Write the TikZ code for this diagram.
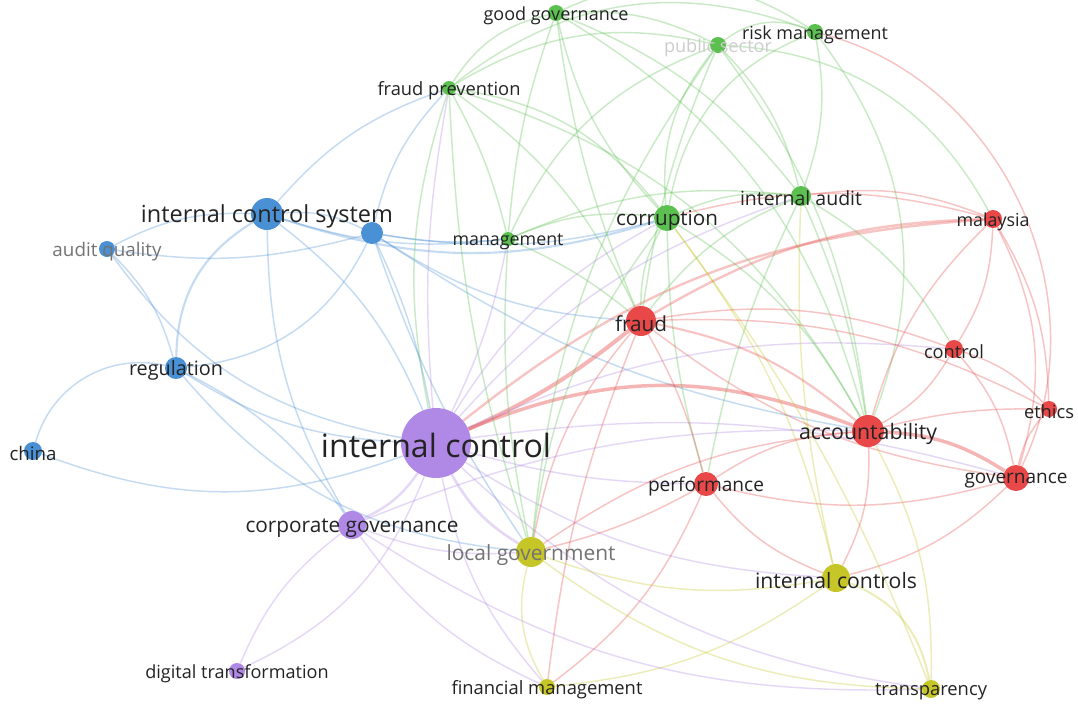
\documentclass[tikz,border=0pt]{standalone}
\usepackage{fontspec}
\setmainfont{Open Sans}
\pgfdeclarelayer{bg}\pgfdeclarelayer{fg}\pgfdeclarelayer{paper}
\pgfsetlayers{paper,bg,main,fg}
\definecolor{cb}{RGB}{74,144,212}
\definecolor{cg}{RGB}{92,192,80}
\definecolor{cr}{RGB}{232,72,72}
\definecolor{cp}{RGB}{176,136,230}
\definecolor{cy}{RGB}{198,198,40}
\definecolor{txt}{RGB}{35,35,35}
\definecolor{fadetxt}{RGB}{115,115,115}
\definecolor{palttxt}{RGB}{205,205,205}
\tikzset{
  kwdot/.style={circle,inner sep=0pt,draw=none},
  kwlbl/.style={inner sep=0pt,yshift=-2pt,font=\fontsize{12}{14}\selectfont},
  edge/.style={line width=1.1pt,draw opacity=0.32},
}
% name, x, y, radius(px), colour, label width(pt), text colour, text
\newcommand{\vn}[8]{%
  \node[kwdot,fill=#5,minimum size={1.5*#4 pt}] (#1) at (#2,#3) {};
  \begin{pgfonlayer}{fg}
    \node[kwlbl,text=#7] (#1-l) at (#2,#3) {\resizebox{#6pt}{!}{#8}};
  \end{pgfonlayer}}
% [extra], colour, from, to, signed bend
\newcommand{\E}[5][]{\pgfmathsetmacro\bnd{1.45*(#5)}%
  \draw[edge,draw=#2,#1] (#3) to[bend left=\bnd] (#4);}
\begin{document}
\begin{tikzpicture}[x=0.75pt,y=-0.75pt]
\begin{pgfonlayer}{paper}
\fill[white] (0,0) rectangle (1078,704);
\end{pgfonlayer}
\useasboundingbox (0,0) rectangle (1078,704);
% blue
\vn{ics}{267}{214}{16}{cb}{189}{txt}{internal control system}
\node[kwdot,fill=cb,minimum size={1.5*11 pt}] (unk) at (372,233) {};
\vn{auq}{107}{249}{8}{cb}{81.75}{fadetxt}{audit quality}
\vn{reg}{176}{368}{11}{cb}{70.5}{txt}{regulation}
\vn{china}{33}{451}{9}{cb}{35.25}{txt}{china}
% purple
\vn{ic}{436}{443}{35}{cp}{172.5}{txt}{internal control}
\vn{cg}{352}{525}{14}{cp}{159.75}{txt}{corporate governance}
\vn{dt}{237}{671}{8}{cp}{137.5}{txt}{digital transformation}
% green
\vn{gg}{556}{13}{8}{cg}{108.75}{txt}{good governance}
\vn{ps}{718}{45}{8}{cg}{81}{palttxt}{public sector}
\vn{rm}{815}{32}{8}{cg}{109.5}{txt}{risk management}
\vn{fp}{449}{88}{7}{cg}{107.25}{txt}{fraud prevention}
\vn{mgmt}{508}{239}{7}{cg}{83.25}{txt}{management}
\vn{corr}{667}{218}{13}{cg}{76.5}{txt}{corruption}
\vn{ia}{801}{196}{10}{cg}{91.5}{txt}{internal audit}
% red
\vn{fraud}{641}{321}{15}{cr}{39}{txt}{fraud}
\vn{mal}{993}{219}{9}{cr}{54.75}{txt}{malaysia}
\vn{ctrl}{954}{349}{9}{cr}{45}{txt}{control}
\vn{eth}{1049}{409}{8}{cr}{37.5}{txt}{ethics}
\vn{acc}{868}{431}{16}{cr}{103.5}{txt}{accountability}
\vn{gov}{1016}{478}{13}{cr}{77.25}{txt}{governance}
\vn{perf}{706}{484}{12}{cr}{87}{txt}{performance}
% yellow
\vn{lg}{531}{552}{15}{cy}{126.75}{fadetxt}{local government}
\vn{ics2}{836}{578}{14}{cy}{121.5}{txt}{internal controls}
\vn{fm}{547}{687}{8}{cy}{143.25}{txt}{financial management}
\vn{tr}{931}{689}{9}{cy}{84}{txt}{transparency}
\begin{pgfonlayer}{bg}
% blue edges
\E{cb}{ics}{auq}{-10}
\E[line width=1.6pt]{cb}{ics}{reg}{-20}
\E{cb}{auq}{reg}{10}
\E{cb}{ics}{unk}{10}
\E{cb}{ics}{ic}{10}
\E[line width=1.6pt]{cb}{ics}{corr}{-12}
\E{cb}{ics}{fp}{10}
\E{cb}{ics}{mgmt}{-8}
\E{cb}{ics}{cg}{-10}
\E{cb}{auq}{unk}{-8}
\E{cb}{auq}{ic}{-15}
\E{cb}{china}{reg}{30}
\E{cb}{reg}{unk}{-20}
\E{cb}{reg}{ic}{-10}
\E{cb}{reg}{cg}{10}
\E{cb}{reg}{lg}{-15}
\E{cb}{china}{ic}{-14}
\E{cb}{unk}{ic}{5}
\E{cb}{unk}{corr}{-8}
\E{cb}{unk}{fraud}{-10}
\E{cb}{unk}{acc}{-8}
\E{cb}{unk}{mgmt}{-5}
\E{cb}{unk}{fp}{10}
\E{cb}{unk}{lg}{-5}
% purple edges
\E[line width=1.8pt]{cp}{ic}{cg}{10}
\E{cp}{ic}{dt}{15}
\E[line width=3pt,draw opacity=0.4]{cr}{ic}{fraud}{-5}
\E[line width=2.6pt,draw opacity=0.4]{cr}{ic}{acc}{15}
\E[line width=2pt]{cp}{ic}{lg}{-10}
\E{cp}{ic}{perf}{-5}
\E{cp}{ic}{ics2}{-10}
\E{cp}{ic}{gov}{8}
\E{cp}{ic}{corr}{10}
\E{cp}{ic}{mgmt}{-5}
\E{cp}{ic}{fp}{5}
\E{cp}{ic}{fm}{-10}
\E[line width=1.8pt]{cr}{ic}{mal}{12}
\E{cp}{ic}{ctrl}{10}
\E{cp}{ic}{tr}{-12}
\E{cp}{ic}{ia}{10}
\E{cp}{cg}{dt}{-10}
\E{cp}{cg}{lg}{-8}
\E{cp}{cg}{acc}{8}
\E{cp}{cg}{fm}{-10}
\E{cp}{cg}{tr}{-12}
% green edges
\E{cg}{gg}{fp}{-15}
\E{cg}{gg}{ps}{10}
\E{cg}{gg}{rm}{20}
\E{cg}{gg}{corr}{-10}
\E{cg}{gg}{mgmt}{-5}
\E{cg}{gg}{ia}{10}
\E{cg}{gg}{acc}{15}
\E{cg}{gg}{fraud}{-5}
\E{cg}{ps}{rm}{20}
\E{cg}{ps}{corr}{-15}
\E{cg}{ps}{ia}{10}
\E{cg}{ps}{fraud}{-5}
\E{cg}{ps}{acc}{10}
\E{cg}{ps}{mgmt}{-15}
\E{cg}{ps}{fp}{-15}
\E{cg}{ps}{mal}{20}
\E{cg}{ps}{lg}{-10}
\E{cg}{rm}{ia}{10}
\E{cg}{rm}{acc}{20}
\E{cg}{rm}{corr}{-20}
\E{cr}{rm}{gov}{35}
\E{cg}{rm}{fp}{-20}
\E{cg}{fp}{corr}{15}
\E{cg}{fp}{mgmt}{5}
\E{cg}{fp}{ic}{-10}
\E{cg}{fp}{acc}{15}
\E{cg}{fp}{fraud}{10}
\E{cg}{fp}{lg}{-5}
\E{cg}{mgmt}{corr}{10}
\E{cg}{mgmt}{lg}{-5}
\E{cg}{mgmt}{fraud}{5}
\E{cg}{mgmt}{ia}{10}
\E{cg}{corr}{fraud}{-10}
\E{cg}{corr}{ia}{10}
\E{cg}{corr}{acc}{10}
\E{cr}{corr}{mal}{10}
\E{cg}{corr}{lg}{-10}
\E{cg}{corr}{perf}{-5}
\E{cy}{corr}{ics2}{8}
\E{cy}{corr}{tr}{5}
\E{cg}{ia}{fraud}{-10}
\E{cy}{ia}{ics2}{-5}
\E{cg}{ia}{acc}{5}
\E{cg}{ia}{ctrl}{10}
\E{cr}{ia}{mal}{10}
\E{cg}{ia}{perf}{-5}
% red edges
\E[line width=1.8pt]{cr}{fraud}{mal}{10}
\E{cr}{fraud}{ctrl}{10}
\E[line width=1.6pt]{cr}{fraud}{acc}{10}
\E{cr}{fraud}{perf}{5}
\E{cr}{fraud}{gov}{-10}
\E{cr}{fraud}{eth}{10}
\E{cr}{fraud}{lg}{-10}
\E{cr}{fraud}{fm}{-5}
\E{cr}{mal}{ctrl}{10}
\E{cr}{mal}{eth}{10}
\E{cr}{mal}{gov}{15}
\E{cr}{mal}{acc}{-10}
\E{cr}{ctrl}{acc}{10}
\E{cr}{ctrl}{eth}{10}
\E{cr}{ctrl}{gov}{10}
\E[line width=2.6pt,draw opacity=0.4]{cr}{acc}{gov}{10}
\E{cr}{acc}{eth}{5}
\E{cr}{acc}{perf}{-10}
\E{cr}{acc}{ics2}{10}
\E{cr}{acc}{lg}{-10}
\E{cr}{gov}{perf}{10}
\E{cr}{gov}{eth}{10}
\E{cr}{gov}{ics2}{10}
\E{cr}{perf}{ics2}{-10}
\E{cr}{perf}{fm}{10}
\E{cr}{perf}{lg}{5}
% yellow edges
\E{cy}{lg}{ics2}{-10}
\E{cy}{lg}{fm}{-15}
\E{cy}{lg}{tr}{-12}
\E[line width=1.5pt]{cy}{ics2}{tr}{20}
\E{cy}{acc}{tr}{10}
\E{cy}{ics2}{fm}{10}
\end{pgfonlayer}
\end{tikzpicture}
\end{document}
